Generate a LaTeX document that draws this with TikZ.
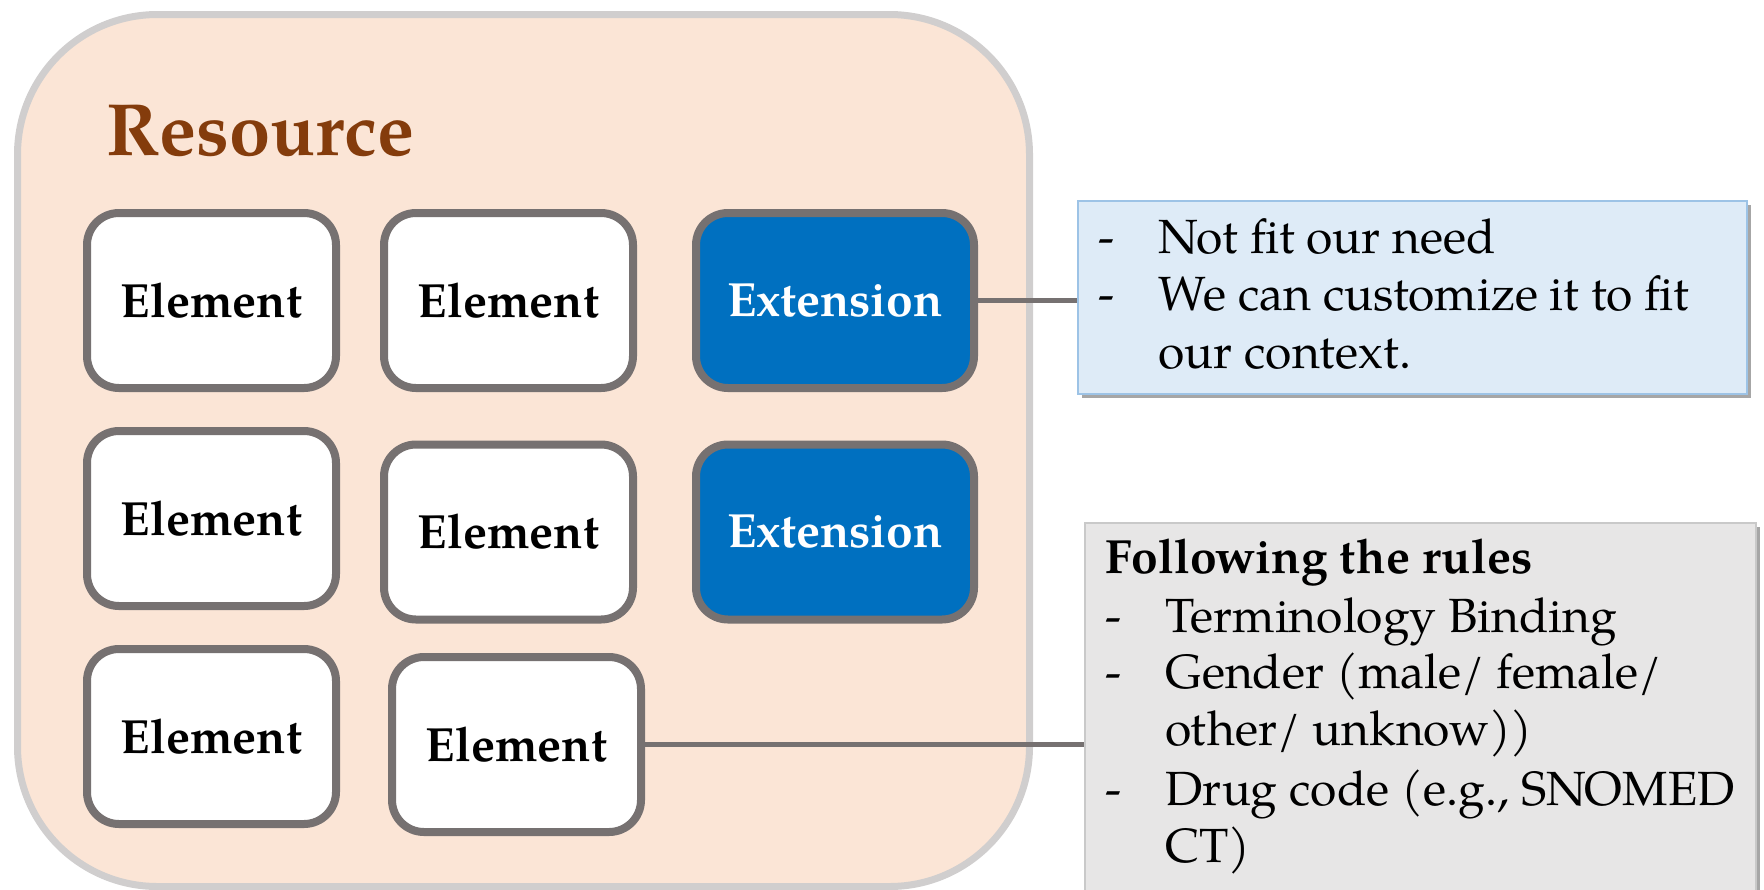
\documentclass[tikz,border=0pt]{standalone}
\usepackage{fontspec}
\setmainfont{TeX Gyre Pagella}
\usetikzlibrary{shadows}
\definecolor{resfill}{HTML}{FBE5D6}
\definecolor{resline}{HTML}{D0CECE}
\definecolor{elemgray}{HTML}{767171}
\definecolor{extblue}{HTML}{0070C0}
\definecolor{brown}{HTML}{843C0C}
\definecolor{notebluefill}{HTML}{DEEBF7}
\definecolor{noteblueline}{HTML}{9DC3E6}
\definecolor{notegrayfill}{HTML}{E7E6E6}
\definecolor{notegrayline}{HTML}{C9C9C9}
\tikzset{
  elembox/.style={draw=elemgray, line width=4pt, fill=white, rounded corners=16pt,
    minimum width=124.5pt, minimum height=87.5pt, inner sep=0pt,
    font=\fontsize{24}{28}\selectfont\bfseries, text=black},
  extbox/.style={elembox, fill=extblue, text=white, minimum width=139pt},
  notebox/.style={rectangle, inner sep=0pt, line width=1pt,
    drop shadow={shadow xshift=2pt, shadow yshift=-2pt, opacity=0.35, fill=black}},
  notetext/.style={anchor=base west, inner sep=0pt, font=\fontsize{24}{28.5}\selectfont},
  link/.style={draw=elemgray, line width=2.2pt},
}
\begin{document}
\begin{tikzpicture}[x=0.5pt,y=-0.5pt]
\useasboundingbox (0,0) rectangle (1764,889);
% resource container
\node[draw=resline, fill=resfill, line width=3.5pt, rounded corners=70pt,
  minimum width=506pt, minimum height=436pt, inner sep=0pt, anchor=north west]
  (res) at (14,11) {};
\node[anchor=base west, inner sep=0pt, text=brown,
  font=\fontsize{37}{44}\selectfont\bfseries] (title) at (106,155) {Resource};
% elements
\node[elembox] (b11) at (211.5,300.5) {Element};
\node[elembox] (b12) at (508.5,300.5) {Element};
\node[extbox]  (e1)  at (835,300.5) {Extension};
\node[elembox] (b21) at (211.5,518.5) {Element};
\node[elembox] (b22) at (508.5,532) {Element};
\node[extbox]  (e2)  at (835,532) {Extension};
\node[elembox] (b31) at (211.5,736.5) {Element};
\node[elembox] (b32) at (516.5,744.5) {Element};
% notes
\node[notebox, draw=noteblueline, fill=notebluefill, anchor=north west,
  minimum width=334.5pt, minimum height=96.5pt] (note1) at (1077,200) {};
\node[notebox, draw=notegrayline, fill=notegrayfill, anchor=north west,
  minimum width=335.5pt, minimum height=200pt] (note2) at (1084,522) {};
% note 1 text
\node[notetext] (n1d1) at (1098,253) {-};
\node[notetext] (n1t1) at (1158,253) {Not fit our need};
\node[notetext] (n1d2) at (1098,310) {-};
\node[notetext] (n1t2) at (1158,310) {We can customize it to fit};
\node[notetext] (n1t3) at (1158,368) {our context.};
% note 2 text
\node[notetext, font=\fontsize{24}{28.5}\selectfont\bfseries] (n2h) at (1105,573) {Following the rules};
\node[notetext] (n2d1) at (1105,632) {-};
\node[notetext] (n2t1) at (1165,632) {Terminology Binding};
\node[notetext] (n2d2) at (1105,688) {-};
\node[notetext] (n2t2) at (1165,688) {Gender (male/ female/};
\node[notetext] (n2t3) at (1165,745) {other/ unknow))};
\node[notetext] (n2d3) at (1105,805) {-};
\node[notetext] (n2t4) at (1165,805) {Drug code (e.g., SNOMED};
\node[notetext] (n2t5) at (1165,862) {CT)};
% connectors
\draw[link] (e1.east) -- (e1.east -| note1.west);
\draw[link] (b32.east) -- (b32.east -| note2.west);
\end{tikzpicture}
\end{document}
